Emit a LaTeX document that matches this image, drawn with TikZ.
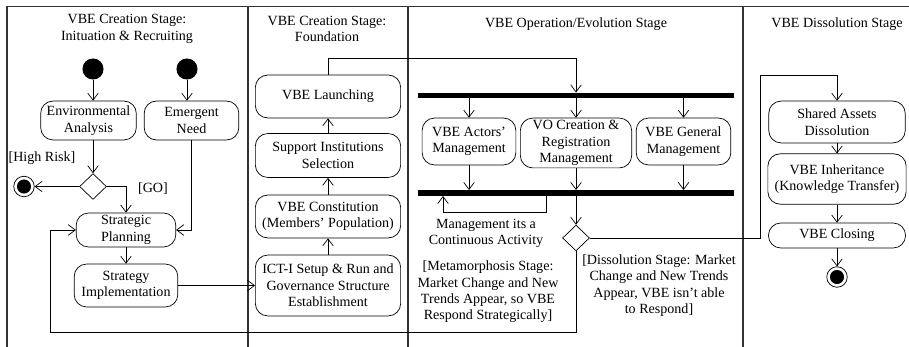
\documentclass[tikz,border=0pt]{standalone}
\usepackage{fontspec}
\setmainfont{Liberation Serif}
\usetikzlibrary{
    arrows.meta,
    shapes.geometric,
    calc,
    positioning
}

\begin{document}
\begin{tikzpicture}[x=0.03cm, y=-0.03cm, font=\fontsize{12}{14}\selectfont,
    line width=0.6pt, >={Straight Barb[length=6pt,width=9pt]},
    act/.style={draw, rounded corners=10.5pt, align=center, inner sep=1pt},
    start/.style={circle, fill=black, minimum size=18pt, inner sep=0pt},
    stop/.style={circle, draw, minimum size=17.5pt, inner sep=0pt,
        path picture={\fill (path picture bounding box.center) circle (6pt);}},
    dec/.style={diamond, draw, minimum width=23pt, minimum height=22pt, inner sep=0pt},
    bar/.style={fill=black, minimum width=270pt, minimum height=4.5pt, inner sep=0pt},
    lane/.style={line width=1pt, black!80}]
    \useasboundingbox (0,0) rectangle (909,347);

    % swimlanes
    \draw[lane] (7,347) -- (7,6.5) -- (909,6.5);
    \foreach \x in {248,408,743}
        \draw[lane] (\x,6.5) -- (\x,347);

    \node[align=center] (t1) at (127,29) {VBE Creation Stage:\\Inituation \& Recruiting};
    \node[align=center] (t2) at (327,29) {VBE Creation Stage:\\Foundation};
    \node (t3) at (576,24) {VBE Operation/Evolution Stage};
    \node (t4) at (837,24) {VBE Dissolution Stage};

    % initiation & recruiting
    \node[start] (s1) at (93,69) {};
    \node[start] (s2) at (187,69) {};
    \node[act, minimum width=81.6pt, minimum height=33.2pt] (ea) at (88.5,120.5) {Environmental\\Analysis};
    \node[act, minimum width=80.8pt, minimum height=33.2pt] (en) at (191.5,120.5) {Emergent\\Need};
    \node[dec] (d1) at (93,186.5) {};
    \node[stop] (f1) at (24,186.5) {};
    \node (hr) at (42,158) {[High Risk]};
    \node (go) at (153,189) {[GO]};
    \node[act, minimum width=85pt, minimum height=29pt] (sp) at (126,230) {Strategic\\Planning};
    \node[act, minimum width=88.4pt, minimum height=36.6pt] (si) at (126,285.5) {Strategy\\Implementation};

    % foundation
    \node[act, minimum width=124pt, minimum height=36.6pt] (vl) at (328,96.5) {VBE Launching};
    \node[act, minimum width=124pt, minimum height=37.4pt] (ss) at (328,155.5) {Support Institutions\\Selection};
    \node[act, minimum width=124pt, minimum height=36.6pt] (vc) at (328,216.5) {VBE Constitution\\(Members' Population)};
    \node[act, minimum width=124pt, minimum height=51.9pt] (ict) at (328,285.5) {ICT-I Setup \& Run and\\Governance Structure\\Establishment};

    % operation / evolution
    \node[bar] (fork) at (576,95.5) {};
    \node[act, minimum width=80pt, minimum height=40pt] (am) at (469,141.5) {VBE Actors'\\Management};
    \node[act, inner sep=0pt, minimum width=95pt, minimum height=42.5pt] (vo) at (576,143) {VO Creation \&\\Registration\\Management};
    \node[act, minimum width=80.8pt, minimum height=40pt] (gm) at (683.5,141.5) {VBE General\\Management};
    \node[bar] (join) at (576,193) {};
    \node[align=center] (cont) at (486,233.5) {Management its a\\Continuous Activity};
    \node[dec] (d2) at (576,238) {};
    \node[align=center] (meta) at (488,292) {[Metamorphosis Stage:\\Market Change and New\\Trends Appear, so VBE\\Respond Strategically]};
    \node[align=center] (diss) at (659,285.5) {[Dissolution Stage: Market\\Change and New Trends\\Appear, VBE isn't able\\to Respond]};

    % dissolution
    \node[act, minimum width=116.5pt, minimum height=35.7pt] (sa) at (837,122) {Shared Assets\\Dissolution};
    \node[act, minimum width=118pt, minimum height=43pt] (vi) at (837,179) {VBE Inheritance\\(Knowledge Transfer)};
    \node[act, minimum width=117pt, minimum height=21.3pt] (vcl) at (837,235.5) {VBE Closing};
    \node[stop] (f2) at (837,277) {};

    \coordinate (up) at (576,58);
    \coordinate (lp) at (546,212);
    \coordinate (lq) at (443,212);
    \coordinate (dv) at (760,75);
    \coordinate (bk) at (50,332);

    \draw
    (s1) edge[->] (s1 |- ea.north)
    (s2) edge[->] (s2 |- en.north)
    (s1 |- ea.south) edge[->] (d1.north)
    (d1) edge[->] (f1)
    (sp) edge[->] (si)
    (si) edge[->] (ict)
    (ict) edge[->] (vc)
    (vc) edge[->] (ss)
    (ss) edge[->] (vl)
    (fork.south -| am) edge[->] (am)
    (fork) edge[->] (vo)
    (fork.south -| gm) edge[->] (gm)
    (am) edge[->] (am |- join.north)
    (vo) edge[->] (join)
    (gm) edge[->] (gm |- join.north)
    (join) edge[->] (d2)
    (sa) edge[->] (vi)
    (vi) edge[->] (vcl)
    (vcl) edge[->] (f2);

    \draw[->] (en.south) |- (sp.east);
    \draw[->] (d1.east) -| (sp.north);
    \draw[->] (vl.north) |- (up) -- (fork.north);
    \draw[->] (join.south -| lp) |- (lq) -- (lq |- join.south);
    \draw[->] (d2.east) -| (dv) -| (sa.north);
    \draw[->] (d2.south) |- (bk) |- (sp.west);
\end{tikzpicture}
\end{document}
